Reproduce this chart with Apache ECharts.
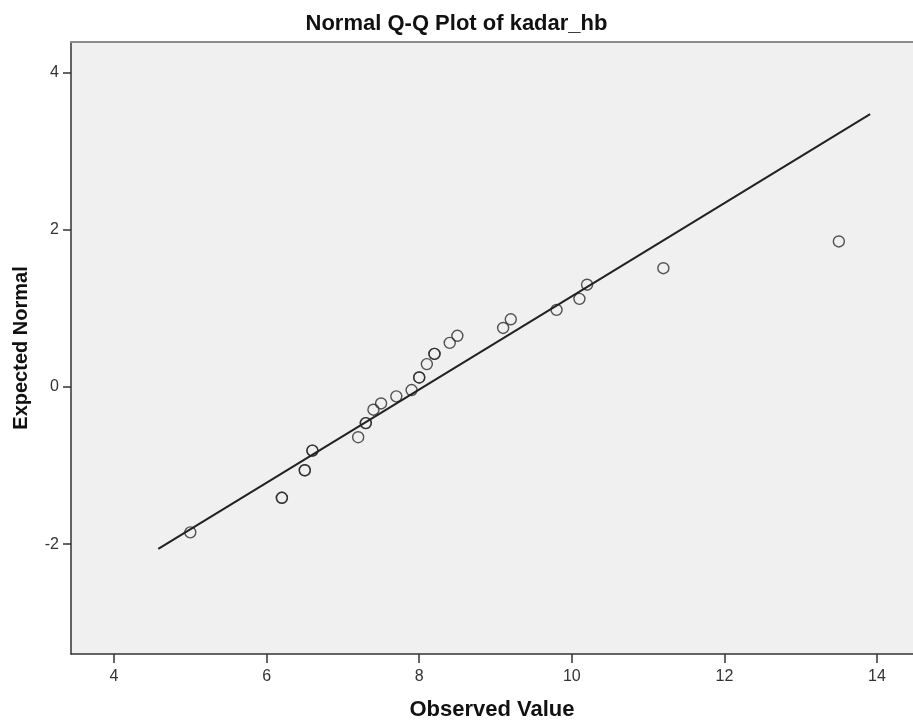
<!DOCTYPE html>
<html>
<head>
<meta charset="utf-8">
<title>Normal Q-Q Plot of kadar_hb</title>
<script src="https://cdn.jsdelivr.net/npm/echarts@6/dist/echarts.min.js"></script>
<style>
    html, body { margin: 0; padding: 0; background: #fff; }
    #chart { width: 913px; height: 726px; }
</style>
</head>
<body>
<div id="chart"></div>
<script>
// observed values (ties appear twice, like SPSS plots them)
var observed = [5.0, 6.2, 6.2, 6.5, 6.5, 6.6, 6.6, 7.2, 7.3, 7.3, 7.4, 7.5, 7.7, 7.9,
    8.0, 8.0, 8.1, 8.2, 8.2, 8.4, 8.5, 9.1, 9.2, 9.8, 10.1, 10.2, 11.2, 13.5];
// expected normal quantiles
var expected = [-1.85, -1.41, -1.41, -1.06, -1.06, -0.81, -0.81, -0.64, -0.46, -0.46, -0.29, -0.21, -0.12, -0.04,
    0.12, 0.12, 0.29, 0.42, 0.42, 0.56, 0.65, 0.75, 0.86, 0.98, 1.12, 1.30, 1.51, 1.85];
// reference line end points
var lineX = [4.58, 13.91];
var lineY = [-2.06, 3.47];
// tick labels
var xTicks = [4, 6, 8, 10, 12, 14];
var yTicks = [-2, 0, 2, 4];

var points = observed.map(function (v, i) { return [v, expected[i]]; });
var linePts = lineX.map(function (v, i) { return [v, lineY[i]]; });

var font = 'Liberation Sans';
var chart = echarts.init(document.getElementById('chart'));
chart.setOption({
    animation: false,
    backgroundColor: '#fff',
    title: {
        text: 'Normal Q-Q Plot of kadar_hb',
        left: 'center',
        top: 8,
        textStyle: { fontFamily: font, fontSize: 22, fontWeight: 'bold', color: '#111' }
    },
    grid: {
        left: 71,
        top: 42,
        right: 0,
        bottom: 72,
        show: true,
        backgroundColor: '#f0f0f0',
        borderWidth: 0
    },
    xAxis: [
        {
            type: 'value',
            min: 3.436,
            max: 14.472,
            name: 'Observed Value',
            nameLocation: 'middle',
            nameGap: 45,
            nameTextStyle: { fontFamily: font, fontSize: 22, fontWeight: 'bold', color: '#111' },
            splitLine: { show: false },
            axisLine: { show: true, onZero: false, lineStyle: { color: '#333', width: 1.5 } },
            axisTick: { show: true, length: 9, customValues: xTicks, lineStyle: { color: '#333', width: 1.5 } },
            axisLabel: { customValues: xTicks, margin: 15, fontFamily: font, fontSize: 16, color: '#333' }
        },
        {
            // top frame line only
            type: 'value',
            position: 'top',
            min: 3.436,
            max: 14.472,
            splitLine: { show: false },
            axisLine: { show: true, onZero: false, lineStyle: { color: '#8c8c8c', width: 2 } },
            axisTick: { show: false },
            axisLabel: { show: false }
        }
    ],
    yAxis: {
        type: 'value',
        min: -3.397,
        max: 4.387,
        name: 'Expected Normal',
        nameLocation: 'middle',
        nameGap: 40,
        nameTextStyle: { fontFamily: font, fontSize: 20, fontWeight: 'bold', color: '#111' },
        splitLine: { show: false },
        axisLine: { show: true, onZero: false, lineStyle: { color: '#333', width: 1.5 } },
        axisTick: { show: true, length: 8, customValues: yTicks, lineStyle: { color: '#333', width: 1.5 } },
        axisLabel: { customValues: yTicks, margin: 12, fontFamily: font, fontSize: 16, color: '#333' }
    },
    series: [
        {
            type: 'line',
            data: linePts,
            symbol: 'none',
            silent: true,
            lineStyle: { color: '#222', width: 2 }
        },
        {
            type: 'scatter',
            data: points,
            symbol: 'circle',
            symbolSize: 11,
            itemStyle: {
                color: 'rgba(0,0,0,0)',
                borderColor: '#2a2a2a',
                borderWidth: 1.4,
                opacity: 0.8
            }
        }
    ]
});
</script>
</body>
</html>
